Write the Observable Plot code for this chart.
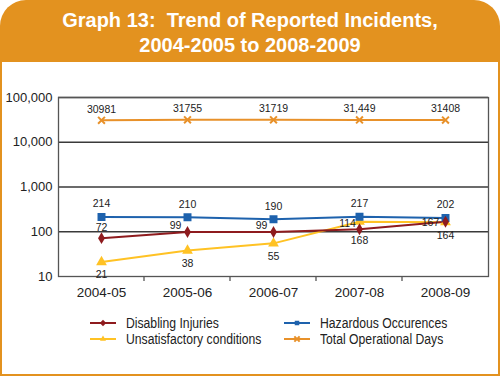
<!DOCTYPE html>
<html><head><meta charset="utf-8">
<script src="https://cdn.jsdelivr.net/npm/d3@7"></script>
<script src="https://cdn.jsdelivr.net/npm/@observablehq/plot@0.6"></script>
<style>
body{margin:0;background:#fff;}
#card{position:relative;width:500px;height:376px;background:#E3921F;border-radius:26px 26px 0 0;overflow:hidden;}
#title{position:absolute;left:0;top:8px;width:500px;text-align:center;color:#fff;font:bold 20px "Liberation Sans",Arial,sans-serif;line-height:25px;}
#white{position:absolute;left:2px;top:62px;width:496px;height:312px;background:#fff;}
#chart{position:absolute;left:0;top:0;}
#legend{position:absolute;left:88px;top:253px;font:14px "Liberation Sans",Arial,sans-serif;color:#222;}
.item{position:absolute;white-space:nowrap;display:flex;align-items:center;height:16px;}
.item svg{margin-right:10px;flex:none;}
.item span{display:inline-block;transform:scaleX(0.87);transform-origin:0 50%;}
</style></head>
<body>
<div id="card">
  <div id="title">Graph 13:&nbsp; Trend of Reported Incidents,<br>2004-2005 to 2008-2009</div>
  <div id="white"><div id="chart"></div><div id="legend"></div></div>
</div>
<script>
const years = ["2004-05","2005-06","2006-07","2007-08","2008-09"];
const disabling = [72,99,99,114,167];
const unsatisfactory = [21,38,55,168,164];
const hazardous = [214,210,190,217,202];
const opDays = [30981,31755,31719,31449,31408];
const opDayLabels = ["30981","31755","31719","31,449","31408"];
const yTicks = [10,100,1000,10000,100000];
const seriesNames = ["Disabling Injuries","Hazardous Occurences","Unsatisfactory conditions","Total Operational Days"];
const seriesColors = ["#8E1B1E","#1E62AD","#FFC224","#E8912A"];

const seriesValues = [disabling, hazardous, unsatisfactory, opDays];
const rows = [];
seriesNames.forEach((s, si) => years.forEach((y, i) => rows.push({
  series: s, year: y, value: seriesValues[si][i], idx: i,
  label: si === 3 ? opDayLabels[i] : String(seriesValues[si][i])
})));
const bySeries = s => rows.filter(r => r.series === s);
const [sRed, sBlue, sYellow, sOrange] = seriesNames;

const font = "'Liberation Sans', Arial, sans-serif";
const labelStyle = {fill: "#222", fontSize: 10.5};
const xy = {x: "year", y: "value"};

const chart = Plot.plot({
  width: 496, height: 245,
  marginLeft: 56, marginRight: 10, marginTop: 35, marginBottom: 31,
  style: {fontFamily: font, fontSize: "13px", color: "#222", background: "transparent"},
  x: {type: "point", domain: years, padding: 0.5, label: null},
  y: {type: "log", domain: [10, 100000], label: null},
  color: {domain: seriesNames, range: seriesColors},
  marks: [
    Plot.ruleY(yTicks.slice(1), {stroke: "#3a3a3a", strokeWidth: 1.3}),
    Plot.frame({stroke: "#555", strokeWidth: 1.3}),
    Plot.axisY({ticks: yTicks, tickFormat: d3.format(","), tickSize: 0, tickPadding: 6, label: null, fontSize: 13}),
    Plot.axisX({tickSize: 0, tickPadding: 11, label: null, fontSize: 13.5}),
    Plot.line(bySeries(sYellow), {...xy, stroke: "series", strokeWidth: 2}),
    Plot.line(bySeries(sRed), {...xy, stroke: "series", strokeWidth: 2}),
    Plot.line(bySeries(sBlue), {...xy, stroke: "series", strokeWidth: 2}),
    Plot.line(bySeries(sOrange), {...xy, stroke: "series", strokeWidth: 2}),
    Plot.dot(bySeries(sYellow), {...xy, fill: "series", symbol: "triangle", r: 4}),
    Plot.dot(bySeries(sBlue), {...xy, fill: "series", symbol: "square", r: 4.5}),
    Plot.dot(bySeries(sRed), {...xy, fill: "series", symbol: "diamond", r: 3.6}),
    Plot.dot(bySeries(sOrange), {...xy, stroke: "series", symbol: "times", r: 3.2, strokeWidth: 2}),
    Plot.text(bySeries(sOrange), {...xy, text: "label", dy: -11, ...labelStyle}),
    Plot.text(bySeries(sBlue), {...xy, text: "label", dy: -13, ...labelStyle}),
    Plot.text(bySeries(sRed).filter(r => r.idx === 0), {...xy, text: "label", dy: -11, ...labelStyle}),
    Plot.text(bySeries(sRed).filter(r => r.idx > 0 && r.idx < 4), {...xy, text: "label", dx: -12, dy: -6, ...labelStyle}),
    Plot.text(bySeries(sRed).filter(r => r.idx === 4), {...xy, text: "label", dx: -15, dy: 1, ...labelStyle}),
    Plot.text(bySeries(sYellow).filter(r => r.idx !== 3), {...xy, text: "label", dy: 13, ...labelStyle}),
    Plot.text(bySeries(sYellow).filter(r => r.idx === 3), {...xy, text: "label", dy: 19, ...labelStyle})
  ]
});
document.getElementById("chart").appendChild(chart);

// bottom tick marks at category boundaries, from the library's scales
const xs = chart.scale("x"), ys = chart.scale("y");
const yb = ys.apply(10);
const svg = d3.select(chart);
const bounds = years.slice(0, -1).map((y, i) => (xs.apply(y) + xs.apply(years[i + 1])) / 2);
svg.append("g").selectAll("line").data(bounds).join("line")
  .attr("x1", d => d).attr("x2", d => d).attr("y1", yb).attr("y2", yb + 5)
  .attr("stroke", "#555").attr("stroke-width", 1.3);

// legend
const legendOrder = [[sRed, "diamond"], [sBlue, "square"], [sYellow, "triangle"], [sOrange, "times"]];
const legend = d3.select("#legend");
legendOrder.forEach(([name, sym], i) => {
  const col = i % 2, row = Math.floor(i / 2);
  const color = seriesColors[seriesNames.indexOf(name)];
  const item = legend.append("div").attr("class", "item")
    .style("left", (col * 194) + "px").style("top", (row * 16) + "px");
  const s = item.append("svg").attr("width", 26).attr("height", 10);
  s.append("line").attr("x1", 0).attr("x2", 26).attr("y1", 5).attr("y2", 5).attr("stroke", color).attr("stroke-width", 2);
  const p = d3.symbol(sym === "diamond" ? d3.symbolDiamond2 : sym === "square" ? d3.symbolSquare2 : sym === "triangle" ? d3.symbolTriangle2 : d3.symbolTimes, sym === "times" ? 20 : 26)();
  const path = s.append("path").attr("d", p).attr("transform", "translate(13,5)");
  if (sym === "times") path.attr("fill", "none").attr("stroke", color).attr("stroke-width", 2);
  else path.attr("fill", color);
  item.append("span").text(name);
});
</script>
</body></html>
